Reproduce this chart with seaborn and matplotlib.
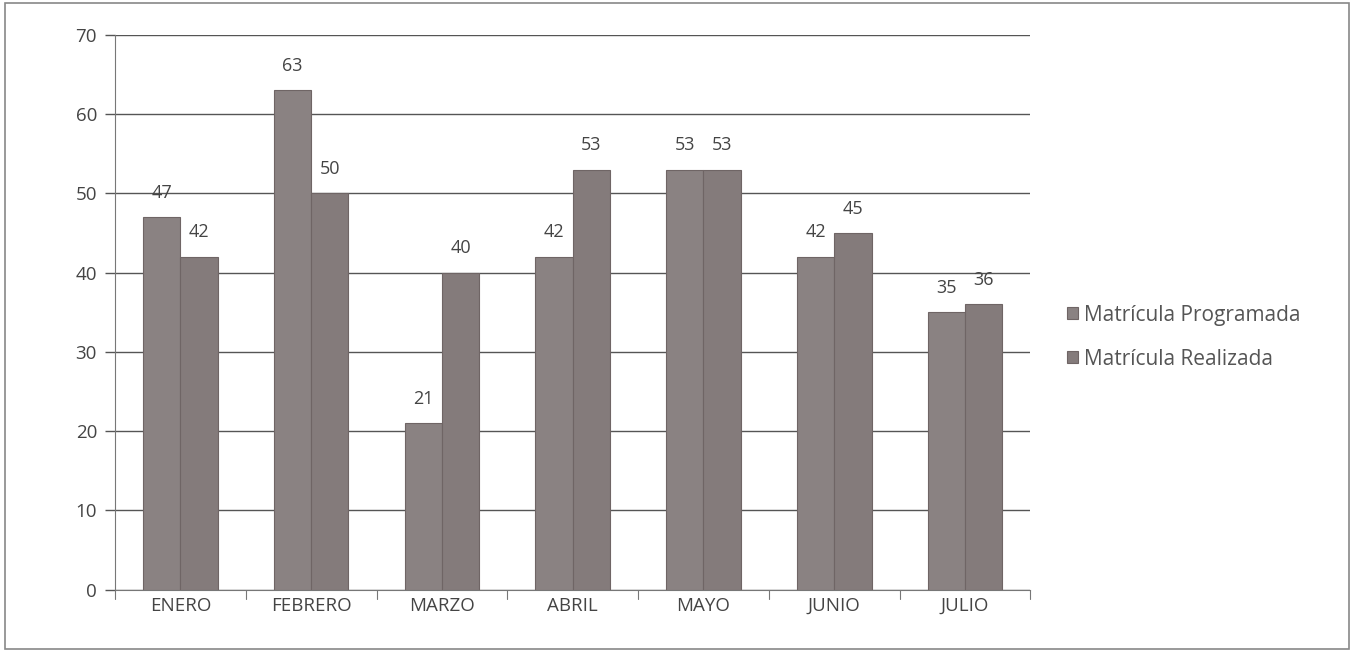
import pandas as pd
import matplotlib.pyplot as plt
import seaborn as sns

# Data
meses = ['ENERO', 'FEBRERO', 'MARZO', 'ABRIL', 'MAYO', 'JUNIO', 'JULIO']
programada = [47, 63, 21, 42, 53, 42, 35]
realizada = [42, 50, 40, 53, 53, 45, 36]

df = pd.DataFrame({
    'mes': meses * 2,
    'valor': programada + realizada,
    'serie': ['Matrícula Programada'] * 7 + ['Matrícula Realizada'] * 7,
})

sns.set_style('white')
plt.rcParams['font.family'] = ['Open Sans', 'DejaVu Sans']

fig = plt.figure(figsize=(13.54, 6.56), dpi=100)
ax = fig.add_axes([0.085, 0.101, 0.676, 0.846])

sns.barplot(data=df, x='mes', y='valor', hue='serie',
            palette=['#8b8181', '#857a7a'], width=0.57,
            edgecolor='#6f6565', linewidth=0.8, ax=ax, zorder=3)

# value labels
for cont in ax.containers:
    ax.bar_label(cont, fmt='%d', padding=11, fontsize=13, color='#444444')

ax.set_ylim(0, 70)
ax.set_yticks(range(0, 71, 10))
ax.yaxis.grid(True, color='#555555', linewidth=1.0, zorder=0)
ax.set_xlabel('')
ax.set_ylabel('')
ax.tick_params(axis='x', labelsize=13.5, colors='#444444', length=0, pad=5)
ax.tick_params(axis='y', labelsize=13.5, colors='#444444', length=7, width=1.0,
               direction='out', pad=6, color='#555555', left=True)

# tick marks between categories
for i in range(len(meses) + 1):
    ax.plot([i - 0.5, i - 0.5], [0, -1.2], color='#777777', lw=0.8, clip_on=False)
ax.set_xlim(-0.5, len(meses) - 0.5)

for s in ['top', 'right']:
    ax.spines[s].set_visible(False)
ax.spines['left'].set_color('#777777')
ax.spines['bottom'].set_color('#777777')

leg = ax.legend(loc='center left', bbox_to_anchor=(1.02, 0.455), frameon=False,
                fontsize=15, handlelength=0.5, handleheight=0.5,
                handletextpad=0.3, labelspacing=1.1)
for t in leg.get_texts():
    t.set_color('#555555')

# outer frame
fig.patches.append(plt.Rectangle((0.004, 0.01), 0.992, 0.985, transform=fig.transFigure,
                                 fill=False, edgecolor='#888888', linewidth=1.2))

plt.savefig('out.png', dpi=100)
